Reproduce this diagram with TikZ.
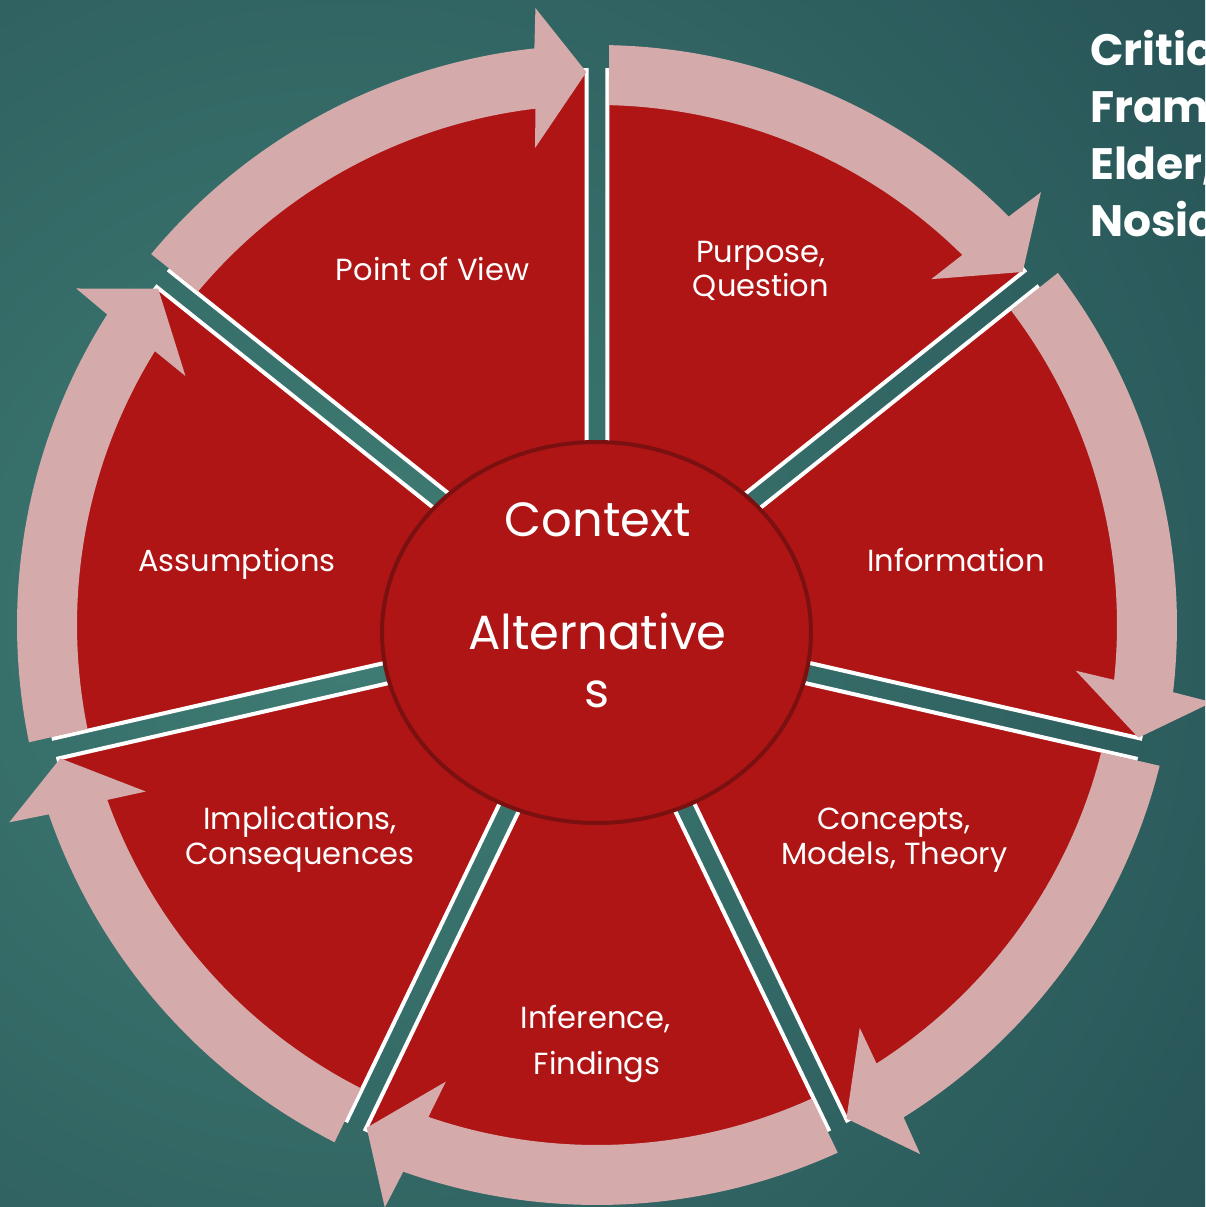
\documentclass[tikz,border=0pt]{standalone}
\usepackage{fontspec}
\setmainfont{Poppins}
\usetikzlibrary{shapes.geometric}
\definecolor{bgin}{HTML}{3F7D74}
\definecolor{bgout}{HTML}{112C3B}
\definecolor{segred}{HTML}{AF1515}
\definecolor{arrowpink}{HTML}{D4AAAA}
\definecolor{ringred}{HTML}{7B1010}
\pgfdeclareradialshading{bgshade}{\pgfpoint{0bp}{0bp}}{color(0bp)=(bgin); color(25bp)=(bgout); color(50bp)=(bgout)}
\begin{document}
\begin{tikzpicture}[x=1pt,y=1pt,
  sector/.style={fill=segred, draw=white, line width=4pt, line join=miter},
  arrowband/.style={fill=arrowpink},
  hub/.style={ellipse, fill=segred, draw=ringred, line width=4pt, minimum width=429pt, minimum height=381pt, inner sep=0pt},
  lbl/.style={text=white, font=\fontsize{30.5}{36}\selectfont, anchor=base, inner sep=0pt},
  hublbl/.style={text=white, font=\fontsize{48}{56}\selectfont, anchor=base, inner sep=0pt},
  ttl/.style={text=white, font=\bfseries\fontsize{44}{52}\selectfont, anchor=base west, inner sep=0pt}]
\useasboundingbox (-597,-582) rectangle (608,625);
\begin{scope}
\clip (-597,-582) rectangle (608,625);
\fill[bgout] (-597,-582) rectangle (608,625);
\shade[shading=bgshade] (-247,5) circle (2100);
% sectors
\pgfmathsetmacro{\dg}{asin(10.3/555)}
\pgfmathsetmacro{\dz}{10.3/sin(180/7)}
\foreach \k in {0,...,6}{
  \pgfmathsetmacro{\a}{90-\k*360/7}
  \pgfmathsetmacro{\b}{\a-360/7}
  \pgfmathsetmacro{\m}{\a-180/7}
  \pgfmathsetmacro{\sa}{\a-\dg}
  \pgfmathsetmacro{\sb}{\b+\dg}
  \path[sector] (\m:\dz) -- (\sa:555) arc[start angle=\sa, end angle=\sb, radius=555] -- cycle;
}
% arrows
\foreach \k in {0,...,6}{
  \pgfmathsetmacro{\a}{90-\k*360/7}
  \pgfmathsetmacro{\b}{\a-360/7}
  \pgfmathsetmacro{\ti}{\a-1.32}
  \pgfmathsetmacro{\to}{\a-1.19}
  \pgfmathsetmacro{\no}{\b+6.2}
  \pgfmathsetmacro{\bo}{\b+5.7}
  \pgfmathsetmacro{\tp}{\b+1.1}
  \pgfmathsetmacro{\bi}{\b+7.4}
  \pgfmathsetmacro{\ni}{\b+6.8}
  \path[arrowband] (\ti:520) -- (\to:580) arc[start angle=\to, end angle=\no, radius=580]
    -- (\bo:620) -- (\tp:553) -- (\bi:481) -- (\ni:520)
    arc[start angle=\ni, end angle=\ti, radius=520] -- cycle;
}
\node[hub] (hub) at (-0.5,-7.5) {};
\node[hublbl] (context) at (1,88) {Context};
\node[hublbl] (alt1) at (0.5,-25) {Alternative};
\node[hublbl] (alt2) at (0,-82) {s};
\node[lbl] (pov) at (-164.5,344) {Point of View};
\node[lbl] (purp1) at (164,362) {Purpose,};
\node[lbl] (purp2) at (164,328) {Question};
\node[lbl] (info) at (359,53) {Information};
\node[lbl] (assum) at (-360,53) {Assumptions};
\node[lbl] (conc1) at (297,-204) {Concepts,};
\node[lbl] (conc2) at (297.5,-239) {Models, Theory};
\node[lbl] (impl1) at (-297,-204) {Implications,};
\node[lbl] (impl2) at (-297,-239) {Consequences};
\node[lbl] (inf1) at (-1.5,-403) {Inference,};
\node[lbl] (inf2) at (0,-449) {Findings};
\node[ttl] (t1) at (493,559) {Critical};
\node[ttl] (t2) at (493,502) {Framework};
\node[ttl] (t3) at (493,445) {Elder,};
\node[ttl] (t4) at (493,388) {Nosich};
\end{scope}
\end{tikzpicture}
\end{document}
